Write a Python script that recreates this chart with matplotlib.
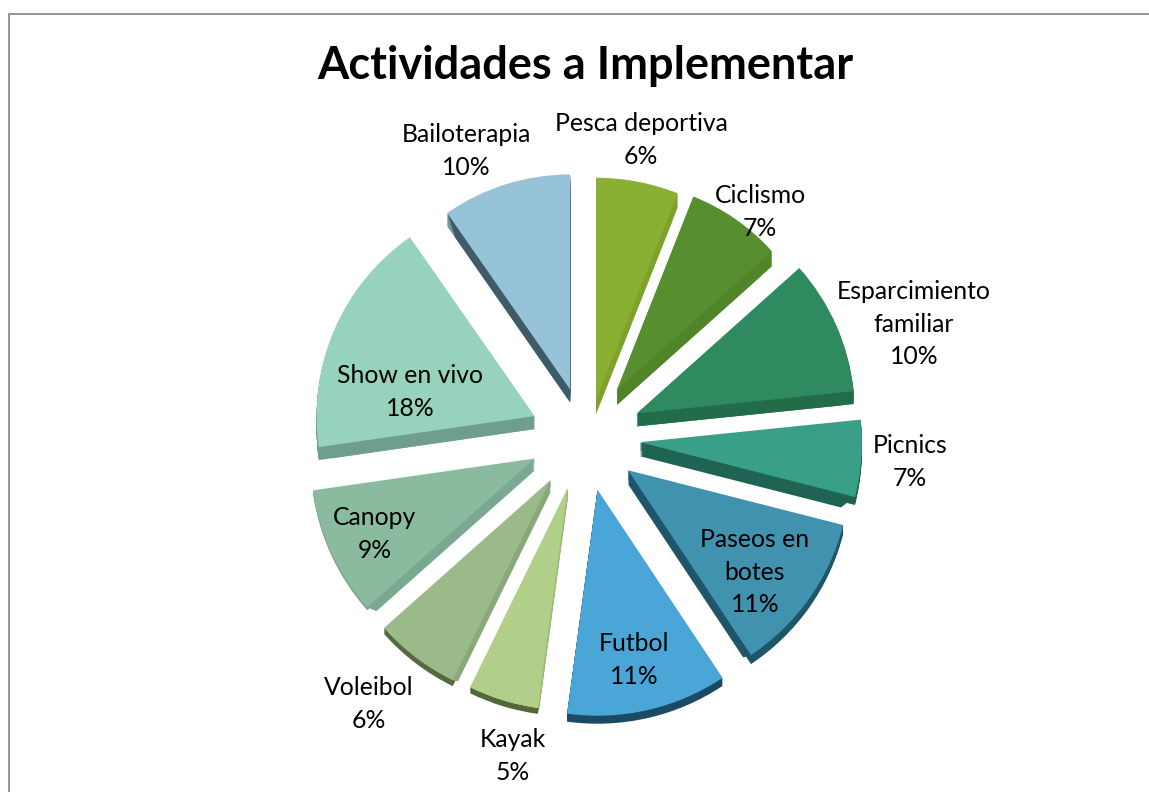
import matplotlib
matplotlib.use("Agg")
import matplotlib.pyplot as plt

# Data
labels = ["Pesca deportiva", "Ciclismo", "Esparcimiento\nfamiliar", "Picnics", "Paseos en\nbotes",
          "Futbol", "Kayak", "Voleibol", "Canopy", "Show en vivo", "Bailoterapia"]
percent_labels = [6, 7, 10, 7, 11, 11, 5, 6, 9, 18, 10]
# slice sizes as drawn in the picture (the 3D view stretches some of them)
slice_shares = [6.0, 7.4, 10.0, 5.6, 11.7, 11.5, 5.1, 6.2, 9.3, 17.6, 9.7]

top_colors = ["#8AB033", "#578F30", "#2F8B5F", "#39A087", "#4192AE", "#49A6D6",
              "#B1CF88", "#9ABA89", "#8BBB9E", "#96D2BC", "#96C3D8"]
arc_colors = ["#7FA32A", "#4F8428", "#236C4A", "#1F6352", "#1F5568", "#1B4A63",
              "#55663A", "#56683F", "#7AA890", "#6F9E8F", "#6F97A8"]
wall_colors = ["#7FA32A", "#4F8428", "#236C4A", "#1F6352", "#1F5568", "#1B4A63",
               "#9CBB78", "#8AA87C", "#7AA890", "#6F9E8F", "#3F5B68"]

# styling per slice
explode = [43, 61, 61, 57, 54, 51, 49, 50, 51, 55, 53]
nudge_x = [5, -1, -2, 0, 1, 3, -1, -2, -2, 2, 3]
nudge_y = [1, -1, -3, -3, -2, -1, 0, -1, -4, -3, -1]  # pixels, downwards
radii = [222, 208, 218, 222, 222, 226, 222, 223, 224, 218, 215]
wall_depth = [14, 15, 13, 14, 14, 8, 11, 12, 12, 13, 13]
arc_depth = [14, 15, 13, 8, 9, 8, 6, 6, 3, 13, 13]

# label centres in picture pixels (x, y from top)
label_pos = [(641, 140), (760, 212), (914, 324), (910, 462), (755, 572),
             (634, 660), (513, 756), (369, 704), (375, 534), (410, 392), (466, 151)]

W, H = 1149, 792
cx, cy = 583, H - 441

fig = plt.figure(figsize=(W / 100, H / 100), dpi=100)
ax = fig.add_axes([0, 0, 1, 1])


def draw_pie(shrink, dy, colors, depths=None):
    wedges, _ = ax.pie(slice_shares, explode=explode, startangle=90, counterclock=False,
                       center=(cx, cy - dy), colors=colors, wedgeprops={"linewidth": 0}, frame=True)
    for i, w in enumerate(wedges):
        x, y = w.center
        w.set_center((x + nudge_x[i], y - nudge_y[i]))
        w.set_radius(radii[i] - shrink)
        if depths is not None and dy > depths[i]:
            w.set_visible(False)


# side faces: stacked copies of the pie shifted downwards
for d in range(max(arc_depth), 0, -1):
    draw_pie(0, d, arc_colors, arc_depth)
for d in range(max(wall_depth), 0, -1):
    draw_pie(d, d, wall_colors, wall_depth)

# top face
draw_pie(0, 0, top_colors)

for name, val, (x, y) in zip(labels, percent_labels, label_pos):
    ax.text(x, H - y, f"{name}\n{val}%", ha="center", va="center", fontsize=17.8,
            family="Lato", color="black", linespacing=1.5)

ax.text(585, H - 66, "Actividades a Implementar", ha="center", va="center",
        fontsize=32.5, fontweight="bold", family="Lato", color="black")

# chart frame, cut off by the picture
ax.plot([9, 9, W], [0, H - 14, H - 14], color="#8C8C8C", lw=1.3, solid_joinstyle="miter")

ax.set_xlim(0, W)
ax.set_ylim(0, H)
ax.set_aspect("auto")
ax.axis("off")

fig.savefig("out.png", dpi=100, facecolor="white")
